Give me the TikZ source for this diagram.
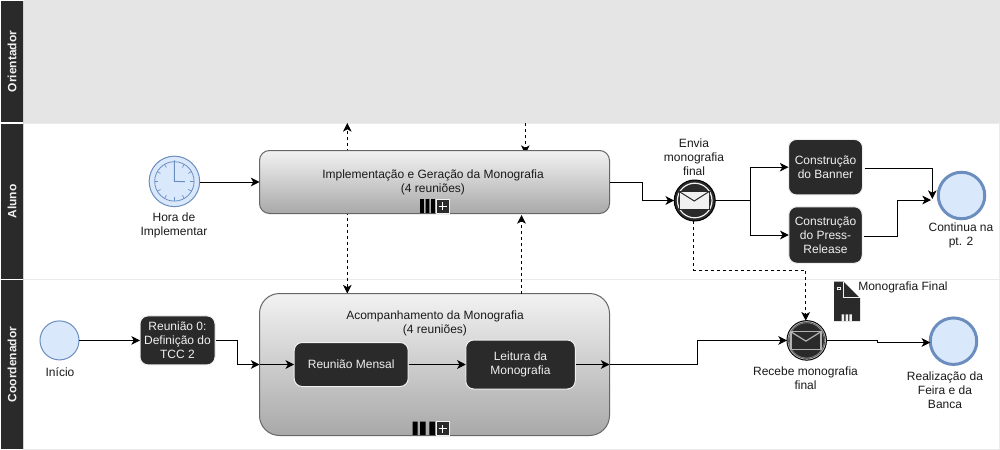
\documentclass[tikz,border=0pt]{standalone}
\usepackage{fontspec}
\setmainfont{Liberation Sans}
\usetikzlibrary{arrows.meta}
\pgfdeclarelayer{back}
\pgfsetlayers{back,main}
\definecolor{dark}{HTML}{2A2A2A}
\definecolor{evfill}{HTML}{DAE8FC}
\definecolor{evline}{HTML}{6C8EBF}
\definecolor{txt}{HTML}{1A1A1A}
\definecolor{ltxt}{HTML}{F0F0F0}
\tikzset{
  sz/.style 2 args={minimum width=#1*0.75pt,minimum height=#2*0.75pt},
  base/.style={inner sep=0pt,outer sep=0pt,align=center,font=\fontsize{9}{10.5}\selectfont},
  lbl/.style={base,text=txt},
  lanehead/.style={base,rotate=90,fill=dark,text=ltxt,font=\fontsize{9}{10.5}\selectfont\bfseries},
  darkbox/.style={base,draw=ltxt,line width=0.75pt,fill=dark,text=ltxt,rounded corners=6pt},
  subproc/.style={base,draw=black!60,line width=0.75pt,top color=black!5,bottom color=black!34,text=txt},
  evstart/.style={base,circle,draw=evline,fill=evfill,line width=0.75pt},
  evend/.style={base,circle,draw=evline,fill=evfill,line width=2.25pt},
  evmsg/.style={base,circle,draw=black,fill=dark,line width=0.75pt},
  flow/.style={draw=black,line width=0.75pt,-{Stealth[length=6.5pt,width=6.5pt,inset=1.8pt]}},
  plainline/.style={draw=black,line width=0.75pt},
  msgflow/.style={flow,dash pattern=on 2.25pt off 2.25pt},
  bar/.style={fill=black,draw=none},
  plusbox/.style={base,draw=ltxt,line width=0.5pt,fill=dark},
}
\begin{document}
\begin{tikzpicture}[x=0.75pt,y=-0.75pt]
\useasboundingbox (0,0) rectangle (1000,450);
% nodes
\node[evstart,sz={50.5}{50.5}] (timer) at (174.4,181.4) {};
\node[lbl,anchor=center] (timerl) at (174,225.3) {Hora de\\Implementar};
\node[subproc,rounded corners=7.5pt,sz={350}{63}] (impl) at (434.5,182) {};
\node[lbl] (implt) at (433,182.3) {Implementação e Geração da Monografia\\(4 reuniões)};
\node[subproc,rounded corners=15pt,sz={350}{142}] (acomp) at (434.5,364.5) {};
\node[lbl] (acompt) at (435,323.5) {Acompanhamento da Monografia\\(4 reuniões)};
\node[evstart,sz={39}{39}] (ini) at (59.5,340.4) {};
\node[lbl] (inil) at (60,372.3) {Início};
\node[darkbox,sz={75}{49}] (r0) at (177.5,340.4) {Reunião 0:\\Definição do\\TCC 2};
\node[darkbox,sz={114}{44}] (rm) at (351.2,364.5) {Reunião Mensal};
\node[darkbox,sz={109.5}{49}] (lei) at (520.5,364.5) {Leitura da\\Monografia};
\node[evmsg,sz={41}{41}] (envia) at (694.7,200.5) {};
\node[lbl] (enval) at (694,156.8) {Envia\\monografia\\final};
\node[darkbox,sz={74}{55.5}] (ban) at (825.5,167.2) {Construção\\do Banner};
\node[darkbox,sz={73.5}{56.5}] (pre) at (825.5,235) {Construção\\do Press-\\Release};
\node[evend,sz={46.5}{46.5}] (fim) at (961.5,195.5) {};
\node[lbl] (fiml) at (961,235.8) {Continua na\\pt. 2};
\node[evmsg,sz={39.5}{39.5}] (rec) at (806.7,340.4) {};
\node[lbl] (recl) at (805.5,377.8) {Recebe monografia\\final};
\node[evend,sz={46.5}{46.5}] (fim2) at (953.5,341.2) {};
\node[lbl] (fim2l) at (945,390) {Realização da\\Feira e da\\Banca};
\node[lbl,anchor=west] (docl) at (858.3,287.7) {Monografia Final};
% clock
\begin{scope}[shift={(timer)}]
  \draw[evline,line width=0.6pt] (0,0) circle[radius=19.7];
  \foreach \a in {0,30,...,330} \draw[evline,line width=0.5pt] (\a:19.7) -- (\a:16);
  \draw[evline,line width=0.75pt] (0,-21) -- (0,0) -- (10.5,0.3);
\end{scope}
% send envelope
\begin{scope}[shift={(envia)}]
  \draw[ltxt,line width=0.9pt] (0,0) circle[radius=17.3];
  \draw[dark,fill=ltxt,line width=0.5pt] (-15.5,-9) rectangle (14.5,8.7);
  \draw[dark,line width=0.75pt] (-15.5,-9) -- (-0.5,0.5) -- (14.5,-9);
\end{scope}
% receive envelope
\begin{scope}[shift={(rec)}]
  \draw[black!45,line width=0.5pt] (0,0) circle[radius=17.6];
  \draw[black!30,line width=0.6pt] (0,0) circle[radius=18.8];
  \draw[black!30,line width=0.9pt] (-15.8,-8.6) rectangle (14.2,8.9);
  \draw[black!30,line width=0.9pt] (-15.8,-8.6) -- (-0.8,0.7) -- (14.2,-8.6);
\end{scope}
% data object
\fill[dark] (834,281.7) -- (843.5,281.7) -- (860,298) -- (860,321) -- (834,321) -- cycle;
\draw[ltxt,line width=0.6pt] (843.7,282) -- (843.7,297.5) -- (860,297.5);
\draw[ltxt,line width=0.6pt,fill=dark] (837,287.5) rectangle (840.5,289);
\fill[ltxt] (841.7,314.3) rectangle (844.2,321) (845.5,314.3) rectangle (848,321) (849.3,314.3) rectangle (851.8,321);
% markers
\fill[bar] (420,199) rectangle (423.8,213.2) (425.5,199) rectangle (429.3,213.2) (431,199) rectangle (434.8,213.2);
\node[plusbox,sz={13.5}{14}] (pl1) at (442.7,206) {};
\draw[white,line width=0.75pt] ([xshift=-3pt]pl1.center) -- ([xshift=3pt]pl1.center) ([yshift=-3pt]pl1.center) -- ([yshift=3pt]pl1.center);
\fill[bar] (412.7,421.7) rectangle (417.7,435.2) (420.2,421.7) rectangle (425.7,435.2) (429.3,421.7) rectangle (435,435.2);
\node[plusbox,sz={13.5}{14}] (pl2) at (442.7,428.5) {};
\draw[white,line width=0.75pt] ([xshift=-3pt]pl2.center) -- ([xshift=3pt]pl2.center) ([yshift=-3pt]pl2.center) -- ([yshift=3pt]pl2.center);
% free ends and routing points
\coordinate (u1) at (347.3,123);
\coordinate (u2) at (525.3,123);
\coordinate (u3) at (525.3,154);
\coordinate (m1) at (347.3,182);
\coordinate (m2) at (521.5,215);
\coordinate (b1) at (932.3,199);
\coordinate (b0) at (864.5,168);
\coordinate (p0) at (863.5,236);
\coordinate (p1) at (897.3,200);
\coordinate (p2) at (931,200);
\coordinate (r1) at (237.5,364.5);
\coordinate (q1) at (877.5,342.5);
% lanes and message flows behind everything
\begin{pgfonlayer}{back}
  \fill[white] (0,0) rectangle (1000,450);
  \node[base,fill=black!10,sz={977}{122.5},anchor=north west] (l1) at (23.5,0) {};
  \node[base,draw=black!8,line width=0.75pt,sz={976}{156.5},anchor=north west] (l2) at (23.5,123) {};
  \node[base,draw=black!8,line width=0.75pt,sz={976}{169.5},anchor=north west] (l3) at (23.5,279.5) {};
  \fill[black!18] (23,0.5) rectangle (24,449);
  \node[lanehead,sz={121}{22.5}] (h1) at (12.2,61.5) {Orientador};
  \node[lanehead,sz={155}{22.5}] (h2) at (12.2,201.5) {Aluno};
  \node[lanehead,sz={169}{22.5}] (h3) at (12.2,364.5) {Coordenador};
  \draw[msgflow] (m1) -- (u1);
  \draw[msgflow] (m1) -- (m1 |- acomp.north);
  \draw[msgflow] (u2) -- (u3);
\end{pgfonlayer}
% flows
\draw[flow] (timer.east |- impl.west) -- (impl.west);
\draw[flow] (impl.east) -- ++(32.5,0) |- (envia.west);
\draw[plainline] (envia.east) -- ++(35.5,0) coordinate (sp);
\draw[flow] (sp) |- (ban.west);
\draw[flow] (sp) |- (pre.west);
\draw[flow] (b0) -| (b1);
\draw[flow] (p0) -| (p1) -- (p2);
\draw[flow] (ini.east) -- (r0.west);
\draw[plainline] (r0.east) ++(1,0) -| (r1);
\draw[flow] (r1) -- (acomp.west);
\draw[flow] (acomp.west) -- (rm.west);
\draw[flow] (rm.east) ++(1,0) -- (lei.west);
\draw[flow] (lei.east) ++(1,0) -- (acomp.east);
\draw[flow] (acomp.east) -- ++(87.8,0) |- (rec.west);
\draw[flow] (rec.east) -| (q1) -- (q1 -| fim2.west);
\draw[msgflow] ([xshift=-0.75pt]envia.south) -- ++(0,49) -| ([xshift=-0.75pt]rec.north);
\draw[msgflow] (m2 |- acomp.north) -- (m2);
\end{tikzpicture}
\end{document}
